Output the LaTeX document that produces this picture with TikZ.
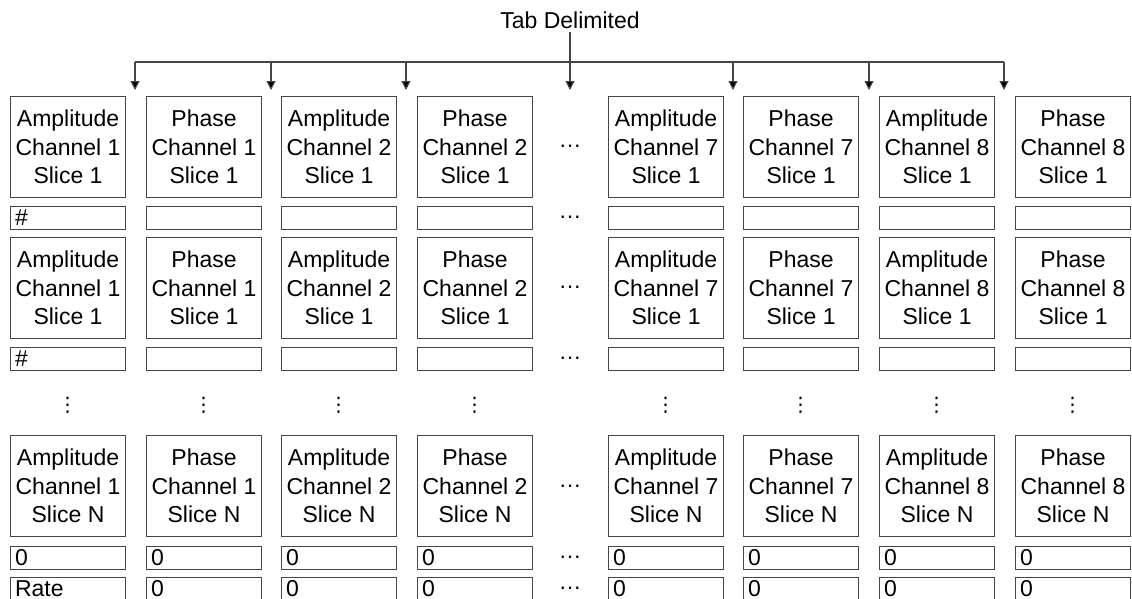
\documentclass[tikz,border=0pt]{standalone}
\usepackage{fontspec}
\setmainfont{Liberation Sans}
\newfontfamily\dejavu{DejaVu Sans}
\usetikzlibrary{arrows.meta}
\definecolor{lncol}{RGB}{70,70,70}
\begin{document}
\begin{tikzpicture}[x=1pt,y=-1pt,
  bigbox/.style={draw=lncol, line width=1.1pt, minimum width=115pt, minimum height=101pt,
    inner sep=0pt, align=center, anchor=north west, font=\fontsize{23}{28.5}\selectfont},
  smallbox/.style={draw=lncol, line width=1.1pt, minimum width=115pt, minimum height=23pt,
    text width=106pt, inner xsep=4.5pt, inner ysep=0pt, align=left, anchor=north west,
    font=\fontsize{23}{28}\selectfont},
  lastbox/.style={smallbox, minimum height=22pt},
  hdots/.style={font=\fontsize{23}{28}\selectfont, inner sep=0pt},
  vdotsn/.style={font=\dejavu\fontsize{20}{20}\selectfont, inner sep=0pt},
  titletext/.style={font=\fontsize{23}{28}\selectfont, inner sep=3pt},
  arr/.style={draw=lncol, line width=1.1pt, -{Triangle[width=9pt,length=9pt,fill=black]}},
  busline/.style={draw=lncol, line width=1.1pt}]
\useasboundingbox (0,0) rectangle (1132,598);

% columns
\foreach \x/\t/\c [count=\i] in {10/Amplitude/1, 146/Phase/1, 281/Amplitude/2, 417/Phase/2,
    608/Amplitude/7, 743/Phase/7, 879/Amplitude/8, 1015/Phase/8} {
  \node[bigbox] (ba\i) at (\x,96) {\t\\Channel \c\\Slice 1};
  \node[bigbox] (bb\i) at (\x,237) {\t\\Channel \c\\Slice 1};
  \node[bigbox] (bc\i) at (\x,435) {\t\\Channel \c\\Slice N};
  \node[vdotsn] (vd\i) at (\x+57.5,405) {⋮};
}
% small boxes
\node[smallbox] (sa1) at (10,206) {\#};
\node[smallbox] (sb1) at (10,347) {\#};
\node[smallbox] (sc1) at (10,546) {0};
\node[lastbox] (sd1) at (10,577) {Rate};
\foreach \x [count=\i from 2] in {146,281,417,608,743,879,1015} {
  \node[smallbox] (sa\i) at (\x,206) {};
  \node[smallbox] (sb\i) at (\x,347) {};
  \node[smallbox] (sc\i) at (\x,546) {0};
  \node[lastbox] (sd\i) at (\x,577) {0};
}
% horizontal ellipses
\foreach \y [count=\i] in {146.5,217.5,287.5,358.5,486,557.5,588} {
  \node[hdots] (hd\i) at (570,\y) {…};
}

% title and distribution bus
\node[titletext] (tab) at (570,20) {Tab Delimited};
\foreach \x [count=\i] in {135,271,406,570,733,869,1004} {
  \coordinate (bus\i) at (\x,62);
  \coordinate (tip\i) at (\x,90);
}
\draw[busline] (bus1) -- (bus7);
\foreach \i in {1,2,3,5,6,7} {
  \draw[arr] (bus\i) -- (tip\i);
}
\draw[arr] (tab.south) -- (tip4);
\end{tikzpicture}
\end{document}
